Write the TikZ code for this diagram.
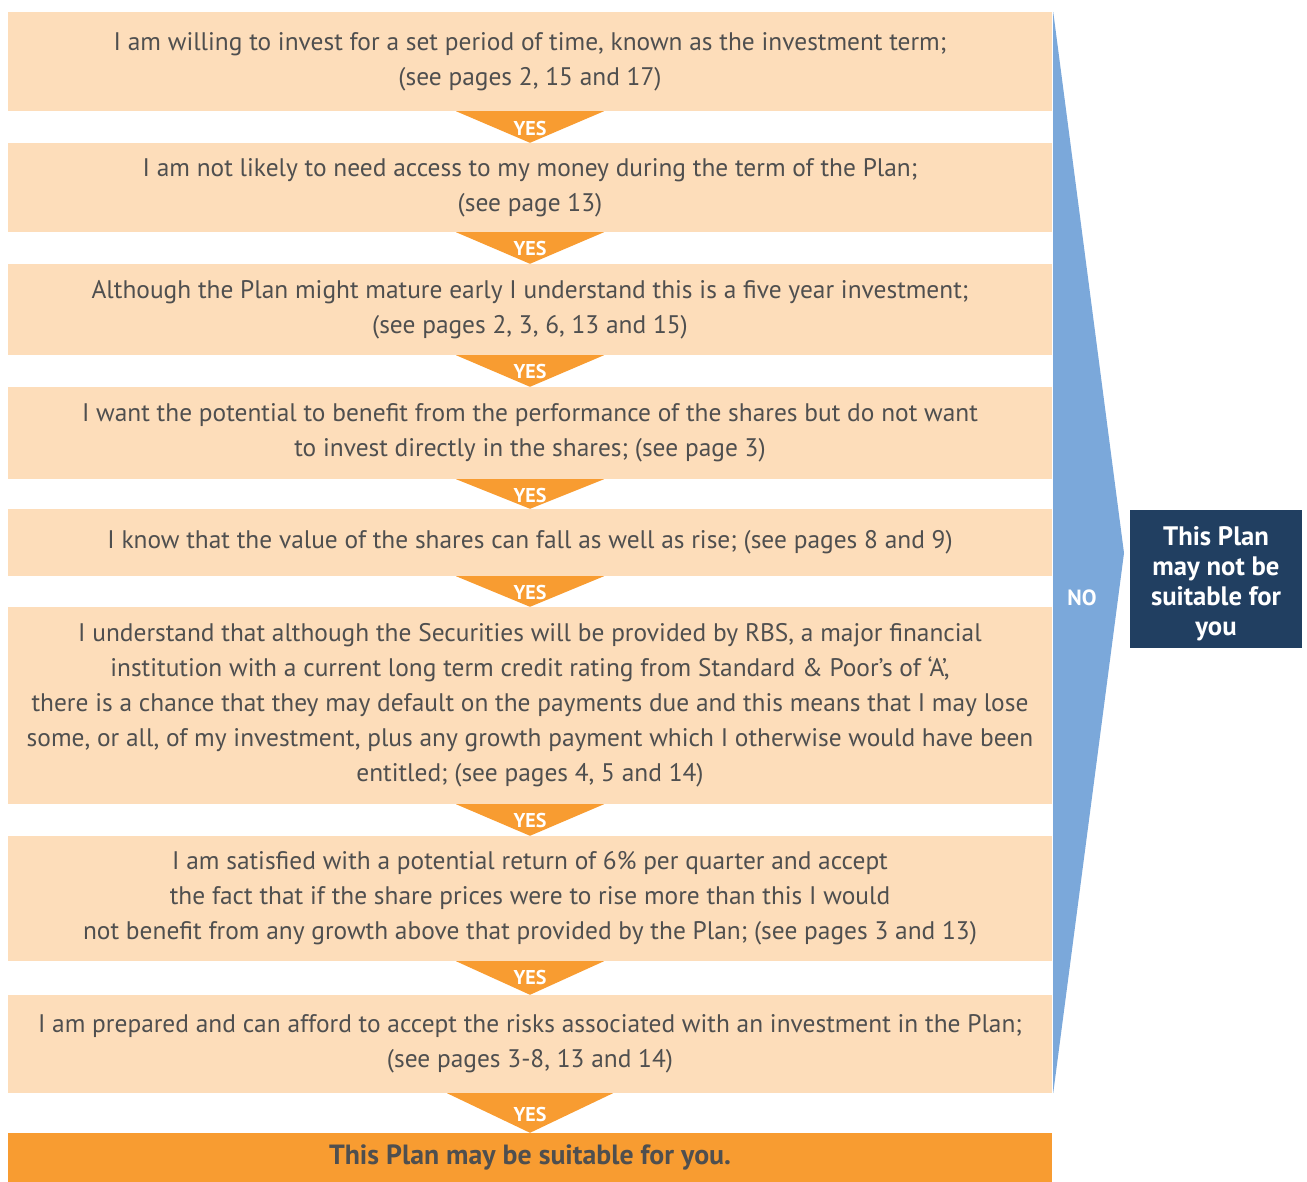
\documentclass[tikz,border=0pt]{standalone}
\usepackage{fontspec}
\setmainfont{PT Sans}
\usetikzlibrary{calc}
\definecolor{peach}{HTML}{FDDDBA}
\definecolor{amber}{HTML}{F89C31}
\definecolor{skyblue}{HTML}{7BA8DA}
\definecolor{navy}{HTML}{213F61}
\definecolor{txtgray}{HTML}{4F4F4F}

\begin{document}
\begin{tikzpicture}[x=1pt,y=-1pt,
    qbox/.style={fill=peach,minimum width=1044pt,inner sep=0pt,align=center,text=txtgray,font=\fontsize{25.4}{35}\selectfont},
    yes/.style={text=white,inner sep=0pt,font=\bfseries\fontsize{20}{20}\selectfont}]
  \useasboundingbox (0,0) rectangle (1307,1182);

  \node[qbox,minimum height=99pt] (b1) at (530,61.5) {I am willing to invest for a set period of time, known as the investment term;\\(see pages 2, 15 and 17)};
  \node[qbox,minimum height=89pt] (b2) at (530,187.5) {I am not likely to need access to my money during the term of the Plan;\\(see page 13)};
  \node[qbox,minimum height=91pt] (b3) at (530,309.5) {Although the Plan might mature early I understand this is a five year investment;\\(see pages 2, 3, 6, 13 and 15)};
  \node[qbox,minimum height=92pt] (b4) at (530,433) {I want the potential to benefit from the performance of the shares but do not want\\to invest directly in the shares; (see page 3)};
  \node[qbox,minimum height=67pt] (b5) at (530,542.5) {I know that the value of the shares can fall as well as rise; (see pages 8 and 9)};
  \node[qbox,minimum height=197pt] (b6) at (530,705.5) {I understand that although the Securities will be provided by RBS, a major financial\\institution with a current long term credit rating from Standard \& Poor’s of ‘A’,\\there is a chance that they may default on the payments due and this means that I may lose\\some, or all, of my investment, plus any growth payment which I otherwise would have been\\entitled; (see pages 4, 5 and 14)};
  \node[qbox,minimum height=125pt] (b7) at (530,898.5) {I am satisfied with a potential return of 6\% per quarter and accept\\the fact that if the share prices were to rise more than this I would\\not benefit from any growth above that provided by the Plan; (see pages 3 and 13)};
  \node[qbox,minimum height=98pt] (b8) at (530,1044) {I am prepared and can afford to accept the risks associated with an investment in the Plan;\\(see pages 3-8, 13 and 14)};
  \node[qbox,fill=amber,minimum height=49pt,font=\bfseries\fontsize{27.8}{30}\selectfont] (ok) at (530,1157.5) {This Plan may be suitable for you.};

  \fill[amber] ($(b1.south)+(-74,0)$) -- ($(b1.south)+(74,0)$) -- (b2.north) -- cycle;
  \fill[amber] ($(b2.south)+(-74,0)$) -- ($(b2.south)+(74,0)$) -- (b3.north) -- cycle;
  \fill[amber] ($(b3.south)+(-74,0)$) -- ($(b3.south)+(74,0)$) -- (b4.north) -- cycle;
  \fill[amber] ($(b4.south)+(-74,0)$) -- ($(b4.south)+(74,0)$) -- (b5.north) -- cycle;
  \fill[amber] ($(b5.south)+(-74,0)$) -- ($(b5.south)+(74,0)$) -- (b6.north) -- cycle;
  \fill[amber] ($(b6.south)+(-74,0)$) -- ($(b6.south)+(74,0)$) -- (b7.north) -- cycle;
  \fill[amber] ($(b7.south)+(-74,0)$) -- ($(b7.south)+(74,0)$) -- (b8.north) -- cycle;
  \fill[amber] ($(b8.south)+(-83,0)$) -- ($(b8.south)+(83,0)$) -- (ok.north) -- cycle;

  \node[yes] (y1) at ($(b1.south)+(0,17)$) {YES};
  \node[yes] (y2) at ($(b2.south)+(0,16)$) {YES};
  \node[yes] (y3) at ($(b3.south)+(0,16)$) {YES};
  \node[yes] (y4) at ($(b4.south)+(0,16)$) {YES};
  \node[yes] (y5) at ($(b5.south)+(0,16)$) {YES};
  \node[yes] (y6) at ($(b6.south)+(0,16)$) {YES};
  \node[yes] (y7) at ($(b7.south)+(0,16)$) {YES};
  \node[yes] (y8) at ($(b8.south)+(0,21)$) {YES};

  \coordinate (tip) at (1124,553);
  \fill[skyblue] ($(b1.north east)+(1,0)$) -- (tip) -- ($(b8.south east)+(1,0)$) -- cycle;
  \node[yes,font=\bfseries\fontsize{22}{22}\selectfont] (no) at (1082,598) {NO};

  \node[fill=navy,minimum width=172pt,minimum height=138pt,inner sep=0pt,align=center,text=white,font=\bfseries\fontsize{26.7}{30}\selectfont] (nope) at (1216,579) {\rule{0pt}{28pt}This Plan\\may not be\\suitable for\\you};
\end{tikzpicture}
\end{document}
